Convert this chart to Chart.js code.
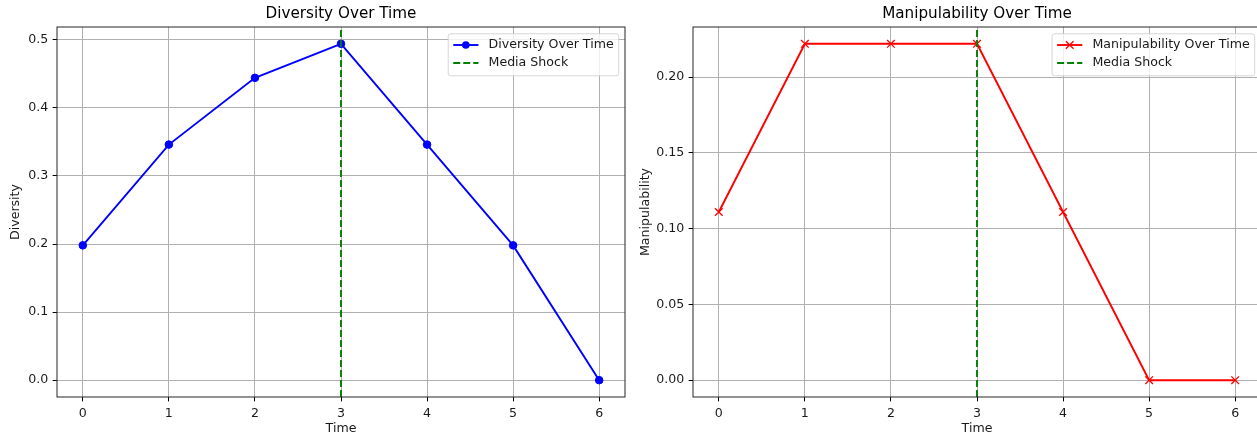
<!DOCTYPE html>
<html>
<head>
<meta charset="utf-8">
<script src="https://cdn.jsdelivr.net/npm/chart.js@4.4.1/dist/chart.umd.min.js"></script>
<style>
  html, body { margin: 0; padding: 0; background: #fff; overflow: hidden; width: 1257px; height: 436px; }
  #diversityChart { position: absolute; left: 0; top: 0; }
  #manipChart { position: absolute; left: 630px; top: 0; }
</style>
</head>
<body>
<canvas id="diversityChart" width="630" height="436"></canvas>
<canvas id="manipChart" width="640" height="436"></canvas>
<script>
// Time steps of the simulation and the two tracked measures
const timeSteps = [0, 1, 2, 3, 4, 5, 6];
const diversity = [0.198, 0.346, 0.444, 0.494, 0.346, 0.198, 0.0];
const manipulability = [0.111, 0.222, 0.222, 0.222, 0.111, 0.0, 0.0];
const shockTime = 3;
const shockLabel = 'Media Shock';
const xAxisLabel = 'Time';

const FONT = "'DejaVu Sans', sans-serif";
const FS = 12.6;          // tick / label / legend size
const TITLE_FS = 15.2;
const TEXT = '#1a1a1a';

// axis limits with a 5% margin around the data, like the usual autoscale
function paddedRange(vals) {
  const lo = Math.min(...vals), hi = Math.max(...vals);
  const m = (hi - lo) * 0.05;
  return [lo - m, hi + m];
}

// box around the plotting area (all four sides)
const framePlugin = {
  id: 'frame',
  afterDatasetsDraw(chart) {
    const a = chart.chartArea, ctx = chart.ctx;
    ctx.save();
    ctx.strokeStyle = '#262626';
    ctx.lineWidth = 1;
    ctx.strokeRect(a.left, a.top, a.right - a.left, a.bottom - a.top);
    ctx.restore();
  }
};

function drawMarker(ctx, style, x, y, r, color, bw) {
  ctx.save();
  ctx.fillStyle = color;
  ctx.strokeStyle = color;
  ctx.setLineDash([]);
  if (style === 'circle') {
    ctx.beginPath();
    ctx.arc(x, y, r, 0, Math.PI * 2);
    ctx.fill();
  } else if (style === 'crossRot') {
    const h = r * Math.SQRT1_2;
    ctx.lineWidth = bw;
    ctx.beginPath();
    ctx.moveTo(x - h, y - h); ctx.lineTo(x + h, y + h);
    ctx.moveTo(x - h, y + h); ctx.lineTo(x + h, y - h);
    ctx.stroke();
  }
  ctx.restore();
}

// legend box in the upper right corner of the plotting area
const legendPlugin = {
  id: 'cornerLegend',
  afterDraw(chart) {
    const ctx = chart.ctx, a = chart.chartArea;
    const items = chart.data.datasets;
    ctx.save();
    ctx.font = `${FS}px ${FONT}`;
    const textW = Math.max(...items.map(d => ctx.measureText(d.label).width));
    const pad = 0.4 * FS, handle = 2 * FS, gap = 0.8 * FS;
    const w = pad + handle + gap + textW + pad;
    const rowH = 18, h = 42;
    const right = a.right - 6.3;
    const left = right - w;
    const top = a.top + 6.8;

    ctx.beginPath();
    ctx.roundRect(left, top, w, h, 2.5);
    ctx.fillStyle = 'rgba(255,255,255,0.8)';
    ctx.fill();
    ctx.strokeStyle = 'rgba(204,204,204,0.8)';
    ctx.lineWidth = 1;
    ctx.stroke();

    items.forEach((d, i) => {
      const cy = top + 11.2 + i * rowH;
      const x0 = left + pad, x1 = x0 + handle;
      ctx.save();
      ctx.strokeStyle = d.borderColor;
      ctx.lineWidth = d.borderWidth;
      ctx.setLineDash(d.borderDash || []);
      ctx.beginPath();
      ctx.moveTo(x0, cy); ctx.lineTo(x1, cy);
      ctx.stroke();
      ctx.restore();
      if (d.pointRadius > 0) {
        drawMarker(ctx, d.pointStyle, (x0 + x1) / 2, cy, d.pointRadius, d.borderColor, d.pointBorderWidth);
      }
      ctx.fillStyle = TEXT;
      ctx.textAlign = 'left';
      ctx.textBaseline = 'middle';
      ctx.fillText(d.label, x1 + gap, cy);
    });
    ctx.restore();
  }
};

function makePanel(canvasId, p) {
  const [yMin, yMax] = paddedRange(p.values);
  const [xMin, xMax] = paddedRange(timeSteps);
  const tickFont = { family: FONT, size: FS };
  return new Chart(document.getElementById(canvasId), {
    type: 'line',
    data: {
      datasets: [
        {
          label: p.label,
          data: timeSteps.map((t, i) => ({ x: t, y: p.values[i] })),
          borderColor: p.color,
          backgroundColor: p.color,
          borderWidth: 1.9,
          pointStyle: p.marker,
          pointRadius: p.markerRadius,
          pointBorderWidth: p.markerEdge,
          pointBackgroundColor: p.color,
          pointBorderColor: p.color,
          tension: 0,
          fill: false,
          order: 1
        },
        {
          label: shockLabel,
          data: [{ x: shockTime, y: yMin }, { x: shockTime, y: yMax }],
          borderColor: '#008000',
          borderWidth: 1.9,
          borderDash: [7, 3],
          pointRadius: 0,
          fill: false,
          order: 0
        }
      ]
    },
    options: {
      responsive: false,
      animation: false,
      devicePixelRatio: 1,
      layout: { padding: { left: 0, right: p.padRight, top: 0, bottom: 0 } },
      plugins: {
        legend: { display: false },
        tooltip: { enabled: false },
        title: {
          display: true,
          text: p.title,
          fullSize: false,
          color: '#000',
          font: { family: FONT, size: TITLE_FS, weight: 'normal', lineHeight: 1.2 },
          padding: { top: 4.9, bottom: 3.86 }
        }
      },
      scales: {
        x: {
          type: 'linear',
          min: xMin,
          max: xMax,
          afterFit(s) { s.height = 39; },
          ticks: { stepSize: 1, includeBounds: false, font: tickFont, color: TEXT, padding: 4.4, maxRotation: 0, autoSkip: false },
          grid: { color: '#b0b0b0', lineWidth: 1, tickColor: '#000', tickLength: 4.4, tickWidth: 1 },
          border: { display: false },
          title: { display: true, text: xAxisLabel, color: TEXT, font: tickFont, padding: { top: 0, bottom: 0 } }
        },
        y: {
          type: 'linear',
          min: yMin,
          max: yMax,
          afterFit(s) { s.width = p.yAxisWidth; },
          ticks: { stepSize: p.yStep, includeBounds: false, font: tickFont, color: TEXT, padding: 4.4,
                   callback: v => Number(v).toFixed(p.yDecimals) },
          grid: { color: '#b0b0b0', lineWidth: 1, tickColor: '#000', tickLength: 4.4, tickWidth: 1 },
          border: { display: false },
          title: { display: true, text: p.yLabel, color: TEXT, font: tickFont, padding: { top: 8.4, bottom: 0 } }
        }
      }
    },
    plugins: [framePlugin, legendPlugin]
  });
}

makePanel('diversityChart', {
  title: 'Diversity Over Time',
  label: 'Diversity Over Time',
  yLabel: 'Diversity',
  values: diversity,
  color: '#0000ff',
  marker: 'circle',
  markerRadius: 3.8,
  markerEdge: 1,
  yStep: 0.1,
  yDecimals: 1,
  yAxisWidth: 57,
  padRight: 5
});

makePanel('manipChart', {
  title: 'Manipulability Over Time',
  label: 'Manipulability Over Time',
  yLabel: 'Manipulability',
  values: manipulability,
  color: '#ff0000',
  marker: 'crossRot',
  markerRadius: 5.4,
  markerEdge: 1.3,
  yStep: 0.05,
  yDecimals: 2,
  yAxisWidth: 63,
  padRight: 9
});
</script>
</body>
</html>
